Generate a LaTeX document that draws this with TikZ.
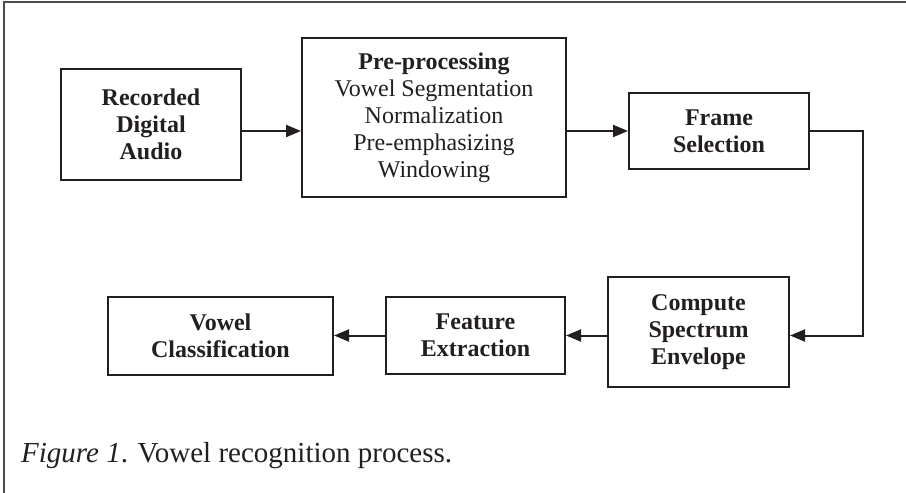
\documentclass[tikz,border=0pt]{standalone}
\usepackage{fontspec}
\setmainfont{Liberation Serif}
\usetikzlibrary{arrows.meta}
\definecolor{ink}{RGB}{35,31,32}

\begin{document}
\begin{tikzpicture}[x=1pt,y=-1pt,
  stage/.style={draw=ink, line width=2pt, align=center, inner sep=0pt,
    font=\fontsize{24}{27}\selectfont\bfseries, text=ink},
  flow/.style={draw=ink, line width=2pt, -{Triangle[length=15pt,width=12pt]}}]
\useasboundingbox (0,0) rectangle (906,493);
\draw[ink!80, line width=1.2pt] (906,2) -- (4,2) -- (4,493);

\node[stage, minimum width=180pt, minimum height=111pt] (rec) at (151,124.5) {Recorded\\Digital\\Audio};
\node[stage, minimum width=264pt, minimum height=159pt] (pre) at (434,117.5)
  {Pre-processing\\\mdseries Vowel Segmentation\\\mdseries Normalization\\\mdseries Pre-emphasizing\\\mdseries Windowing};
\node[stage, minimum width=180pt, minimum height=76pt] (frame) at (719,131) {Frame\\Selection};
\node[stage, minimum width=181pt, minimum height=110pt] (comp) at (698.5,332) {Compute\\Spectrum\\Envelope};
\node[stage, minimum width=179pt, minimum height=77pt] (feat) at (475.5,335.5) {Feature\\Extraction};
\node[stage, minimum width=225pt, minimum height=78pt] (vcls) at (220.5,335.5) {Vowel\\Classification};
\coordinate (turn) at (863,131);

\draw[flow] (rec.east |- frame.west) -- (pre.west |- frame.west);
\draw[flow] (pre.east |- frame.west) -- (frame.west);
\draw[flow] (frame.east) -- (turn) |- (comp.east |- feat.east);
\draw[flow] (comp.west |- feat.east) -- (feat.east);
\draw[flow] (feat.west) -- (vcls.east);

\node[anchor=base west, inner sep=0pt, text=ink, font=\fontsize{29}{33}\selectfont] (caption) at (21,462)
  {\textit{Figure 1}. Vowel recognition process.};
\end{tikzpicture}
\end{document}
